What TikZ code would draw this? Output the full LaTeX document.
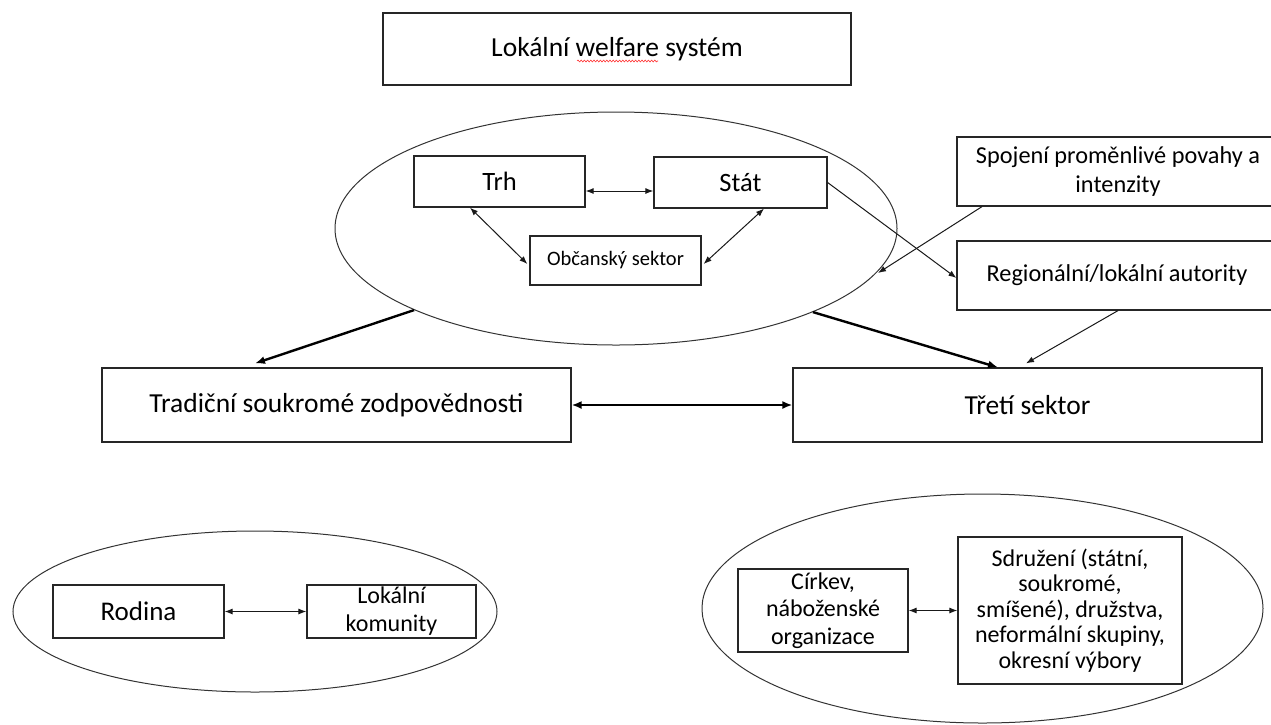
\documentclass[tikz,border=0pt]{standalone}
\usepackage{fontspec}
\setmainfont{Carlito}
\usetikzlibrary{shapes.geometric,arrows.meta,decorations.pathmorphing}
\begin{document}
\begin{tikzpicture}[x=1pt,y=-1pt,
  box/.style={draw=black!85, line width=1.2pt, rectangle, inner sep=0pt, align=center, text=black},
  oval/.style={draw=black!80, line width=1pt, ellipse, inner sep=0pt},
  thin/.style={draw=black!90, line width=1pt, -{Latex[length=8pt,width=6pt]}},
  thinboth/.style={draw=black!90, line width=1pt, {Latex[length=8pt,width=6pt]}-{Latex[length=8pt,width=6pt]}},
  thick/.style={draw=black, line width=2.4pt, -{Latex[length=10pt,width=8pt]}},
  thickboth/.style={draw=black, line width=2.4pt, {Latex[length=10pt,width=8pt]}-{Latex[length=10pt,width=8pt]}},
  big/.style={font=\fontsize{27.5}{31}\selectfont},
  mid/.style={font=\fontsize{26.5}{30}\selectfont},
  small/.style={font=\fontsize{24.3}{28.5}\selectfont},
  tiny/.style={font=\fontsize{20.5}{24}\selectfont}
]
\useasboundingbox (0,0) rectangle (1271,724);
\clip (0,0) rectangle (1271,724);

% ellipses
\node[oval, minimum width=562pt, minimum height=233pt] (bigell) at (616,228.5) {};
\node[oval, minimum width=484pt, minimum height=161pt] (leftell) at (255,611.5) {};
\node[oval, minimum width=561pt, minimum height=229pt] (rightell) at (982.5,608.5) {};

% title
\node[box, big, minimum width=468pt, minimum height=72pt] (title) at (617,49) {Lokální welfare systém};
\draw[red!80, line width=0.6pt, decorate, decoration={snake, amplitude=0.9pt, segment length=3.2pt}] (577,61) -- (658,61);

% inner boxes
\node[box, mid, minimum width=171pt, minimum height=51pt] (trh) at (499.5,181.5) {Trh};
\node[box, mid, minimum width=173pt, minimum height=51pt] (stat) at (740.5,182.5) {Stát};
\node[box, tiny, minimum width=171pt, minimum height=49pt] (obc) at (615.5,260.5) {Občanský sektor};

% right boxes
\node[box, small, minimum width=322pt, minimum height=69pt] (spoj) at (1118,171.5) {Spojení proměnlivé povahy a\\intenzity};
\node[box, small, minimum width=320pt, minimum height=69pt] (reg) at (1117,275.5) {Regionální/lokální autority};

% middle row
\node[box, big, minimum width=469pt, minimum height=74pt] (trad) at (336.5,405) {Tradiční soukromé zodpovědnosti};
\node[box, big, minimum width=469pt, minimum height=74pt] (tret) at (1027.5,405) {Třetí sektor};

% bottom left
\node[box, font=\fontsize{27}{30}\selectfont, minimum width=171pt, minimum height=53pt] (rod) at (138.5,611.5) {Rodina};
\node[box, font=\fontsize{24}{28}\selectfont, minimum width=169pt, minimum height=53pt] (kom) at (391.5,611.5) {Lokální\\komunity};

% bottom right
\node[box, font=\fontsize{24}{27.5}\selectfont, minimum width=170pt, minimum height=83pt] (cirk) at (823,610.5) {Církev,\\náboženské\\organizace};
\node[box, font=\fontsize{24}{25.5}\selectfont, minimum width=224pt, minimum height=147pt] (sdr) at (1070,610.5) {Sdružení (státní,\\soukromé,\\smíšené), družstva,\\neformální skupiny,\\okresní výbory};

\coordinate (spojtip) at (878,273);

% connectors
\draw[thinboth] ([yshift=-9.5pt]trh.east) -- ([yshift=-8.5pt]stat.west);
\draw[thinboth] ([xshift=-29.5pt]trh.south) -- ([xshift=-2pt,yshift=-3.5pt]obc.west);
\draw[thinboth] ([xshift=23.5pt]stat.south) -- ([xshift=2pt,yshift=-3.5pt]obc.east);
\draw[thin] (stat.east) -- ([yshift=-2.5pt]reg.west);
\draw[thin] ([xshift=-136pt]spoj.south) -- (spojtip);
\draw[thin] ([xshift=1pt]reg.south) -- ([xshift=-1.5pt,yshift=4pt]tret.north);
\draw[thick] (bigell.202.6) -- ([xshift=-81.5pt,yshift=4pt]trad.north);
\draw[thick] (bigell.337.8) -- ([xshift=-29.5pt]tret.north);
\draw[thickboth] (trad.east) -- (tret.west);
\draw[thinboth] (rod.east) -- (kom.west);
\draw[thinboth] (cirk.east) -- (sdr.west);
\end{tikzpicture}
\end{document}
